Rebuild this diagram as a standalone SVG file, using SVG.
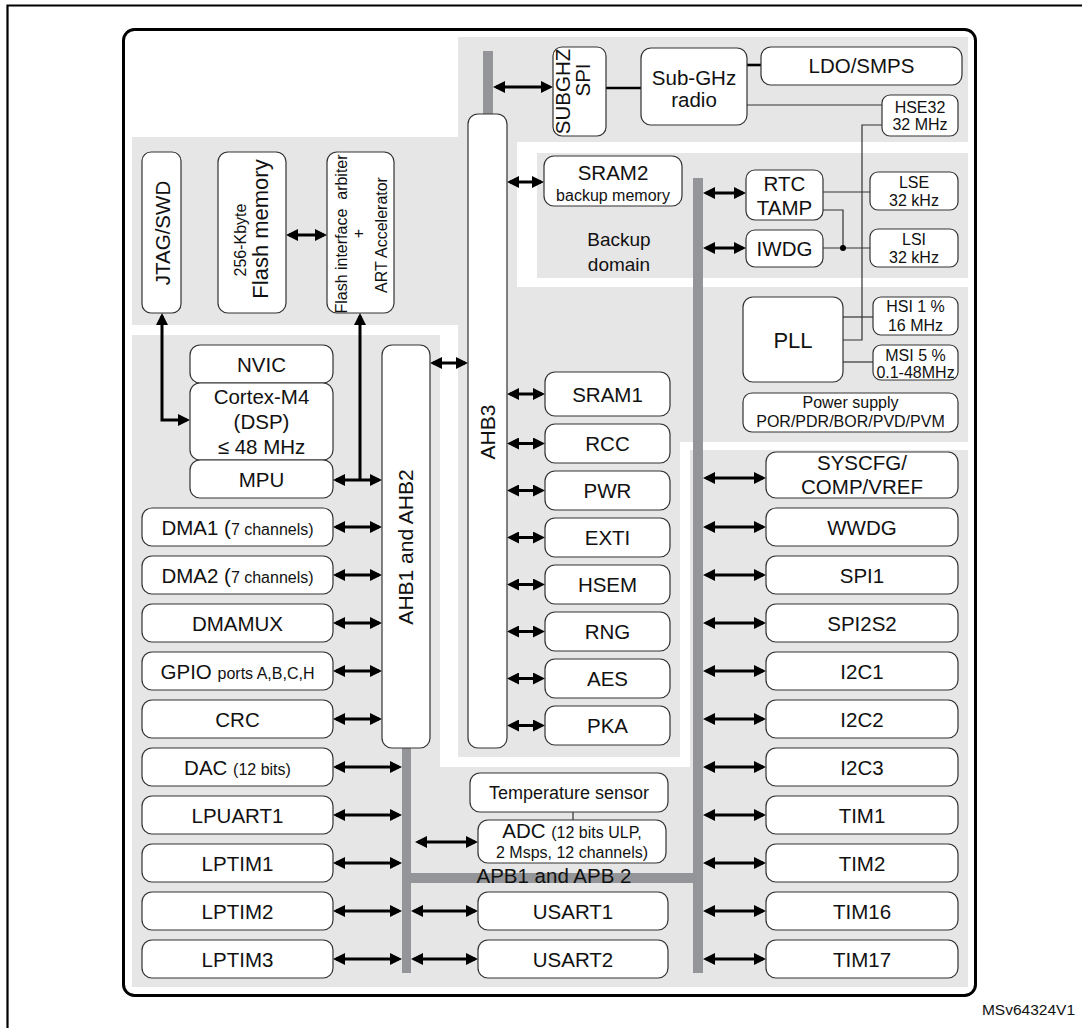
<svg xmlns="http://www.w3.org/2000/svg" width="1082" height="1028" viewBox="0 0 1082 1028">
<defs>
<style>
.region{fill:#e6e6e6}
.bus{fill:#939598}
.box{fill:#fff;stroke:#333;stroke-width:1.2}
.t{font-family:"Liberation Sans",Arial,sans-serif;text-anchor:middle;fill:#111}
.L{font-size:20.5px}
.M{font-size:16px}
.arrow{fill:none;stroke:#000;stroke-width:3;marker-start:url(#ah);marker-end:url(#ah)}
.arrow1{fill:none;stroke:#000;stroke-width:3;marker-start:url(#ah)}
.wire{fill:none;stroke:#333;stroke-width:1.2}
.thick{fill:none;stroke:#000;stroke-width:2.6}
</style>
<marker id="ah" viewBox="0 0 12 12" refX="9" refY="6" markerWidth="12" markerHeight="12" markerUnits="userSpaceOnUse" orient="auto-start-reverse">
<path d="M0,0 L12,6 L0,12 Z" fill="#000"/>
</marker>
</defs>
<rect width="1082" height="1028" fill="#fff"/>
<path d="M7.5,1028 V5.5 H1082" fill="none" stroke="#000" stroke-width="2.2"/>
<rect x="123.5" y="29.5" width="852" height="966" rx="11" fill="none" stroke="#000" stroke-width="3"/>

<g id="regions">
<path class="region" d="M458,37 H968 V142 H517 V287 H968 V442 H680 V757 H458 V325 H132 V137 H458 Z"/>
<rect class="region" x="537" y="153" width="431" height="125"/>
<path class="region" d="M132,335 H440 V767 H690 V450 H968 V987 H132 Z"/>
</g>

<g id="buses">
<rect class="bus" x="483" y="51" width="10" height="64"/>
<rect class="bus" x="693" y="178" width="10" height="795"/>
<rect class="bus" x="402" y="748" width="9" height="225"/>
<rect class="bus" x="411" y="873" width="282" height="10"/>
</g>

<g id="connectors">
<path class="arrow" d="M496,87 H550"/>
<path class="arrow" d="M510,182 H541"/>
<path class="arrow" d="M706,193 H743"/>
<path class="arrow" d="M706,248 H743"/>
<path class="arrow" d="M289,235 H324"/>
<path class="arrow" d="M162,316 V420 H187"/>
<path class="arrow1" d="M360,316 V480"/>
<path class="arrow" d="M336,480 H379"/>
<path class="arrow" d="M433,363 H465"/>
<path class="arrow" d="M510,394 H542"/>
<path class="arrow" d="M510,443.5 H542"/>
<path class="arrow" d="M510,490.5 H542"/>
<path class="arrow" d="M510,537.5 H542"/>
<path class="arrow" d="M510,584.5 H542"/>
<path class="arrow" d="M510,631.5 H542"/>
<path class="arrow" d="M510,678.5 H542"/>
<path class="arrow" d="M510,725.5 H542"/>
<path class="arrow" d="M336,527 H379"/>
<path class="arrow" d="M336,575 H379"/>
<path class="arrow" d="M336,623 H379"/>
<path class="arrow" d="M336,671 H379"/>
<path class="arrow" d="M336,719 H379"/>
<path class="arrow" d="M336,767 H399"/>
<path class="arrow" d="M336,815 H399"/>
<path class="arrow" d="M336,863 H399"/>
<path class="arrow" d="M336,911 H399"/>
<path class="arrow" d="M336,959 H399"/>
<path class="arrow" d="M418,842 H475"/>
<path class="arrow" d="M414,911 H475"/>
<path class="arrow" d="M414,959 H475"/>
<path class="arrow" d="M706,478 H763"/>
<path class="arrow" d="M706,527 H763"/>
<path class="arrow" d="M706,575 H763"/>
<path class="arrow" d="M706,623 H763"/>
<path class="arrow" d="M706,671 H763"/>
<path class="arrow" d="M706,719 H763"/>
<path class="arrow" d="M706,767 H763"/>
<path class="arrow" d="M706,815 H763"/>
<path class="arrow" d="M706,863 H763"/>
<path class="arrow" d="M706,911 H763"/>
<path class="arrow" d="M706,959 H763"/>
<path class="thick" d="M597,88 H641"/>
<path class="thick" d="M747,65 H761" stroke-width="3"/>
<path class="wire" d="M747,105 H882"/>
<path class="wire" d="M882,125 H862 V340 H843"/>
<path class="wire" d="M843,317 H873"/>
<path class="wire" d="M843,362 H873"/>
<path class="wire" d="M823,192 H870"/>
<path class="wire" d="M823,210 H843 V248"/>
<path class="wire" d="M823,248 H870"/>
<circle cx="843" cy="248" r="3" fill="#000"/>
<path class="wire" d="M573,812 V820"/>
</g>

<g id="node-subghz-spi">
<rect class="box" x="553" y="47" width="53" height="89" rx="9"/>
<text class="t L" transform="translate(570,91.5) rotate(-90)">SUBGHZ</text>
<text class="t L" transform="translate(590,80) rotate(-90)">SPI</text>
</g>
<g id="node-subghz-radio">
<rect class="box" x="641" y="48" width="106" height="77" rx="10"/>
<text class="t L" x="694" y="85">Sub-GHz</text>
<text class="t L" x="694" y="107">radio</text>
</g>
<g id="node-ldo">
<rect class="box" x="761" y="47" width="201" height="38" rx="10"/>
<text class="t L" x="861.5" y="73">LDO/SMPS</text>
</g>
<g id="node-hse32">
<rect class="box" x="882" y="95" width="76" height="41" rx="8"/>
<text class="t M" x="920" y="113">HSE32</text>
<text class="t M" x="920" y="130">32 MHz</text>
</g>
<g id="node-sram2">
<rect class="box" x="544" y="156" width="138" height="50" rx="10"/>
<text class="t L" x="613" y="180">SRAM2</text>
<text class="t M" x="613" y="201">backup memory</text>
</g>
<g id="node-rtc">
<rect class="box" x="746" y="170" width="77" height="50" rx="9"/>
<text class="t L" x="784.5" y="191">RTC</text>
<text class="t L" x="784.5" y="215">TAMP</text>
</g>
<g id="node-iwdg">
<rect class="box" x="746" y="230" width="77" height="37" rx="9"/>
<text class="t L" x="784.5" y="256">IWDG</text>
</g>
<g id="label-backup">
<text class="t" x="619" y="246" font-size="19">Backup</text>
<text class="t" x="619" y="271" font-size="19">domain</text>
</g>
<g id="node-lse">
<rect class="box" x="870" y="172" width="88" height="38" rx="8"/>
<text class="t M" x="914" y="188">LSE</text>
<text class="t M" x="914" y="206">32 kHz</text>
</g>
<g id="node-lsi">
<rect class="box" x="870" y="229" width="88" height="38" rx="8"/>
<text class="t M" x="914" y="245">LSI</text>
<text class="t M" x="914" y="263">32 kHz</text>
</g>
<g id="node-pll">
<rect class="box" x="743" y="297" width="100" height="85" rx="10"/>
<text class="t" x="793" y="348" font-size="22">PLL</text>
</g>
<g id="node-hsi">
<rect class="box" x="873" y="297" width="85" height="38" rx="8"/>
<text class="t M" x="915.5" y="312">HSI 1 %</text>
<text class="t M" x="915.5" y="331">16 MHz</text>
</g>
<g id="node-msi">
<rect class="box" x="873" y="345" width="85" height="35" rx="8"/>
<text class="t M" x="915.5" y="361">MSI 5 %</text>
<text class="t M" x="915.5" y="378">0.1-48MHz</text>
</g>
<g id="node-power">
<rect class="box" x="743" y="393" width="215" height="39" rx="9"/>
<text class="t M" x="850.5" y="408">Power supply</text>
<text class="t M" x="850.5" y="427">POR/PDR/BOR/PVD/PVM</text>
</g>

<g id="node-jtag">
<rect class="box" x="142" y="152" width="39" height="161" rx="9"/>
<text class="t L" transform="translate(170,233) rotate(-90)">JTAG/SWD</text>
</g>
<g id="node-flash">
<rect class="box" x="218" y="152" width="68" height="161" rx="10"/>
<text class="t" font-size="16" transform="translate(246,240) rotate(-90)">256-Kbyte</text>
<text class="t" font-size="22" transform="translate(268,229) rotate(-90)">Flash memory</text>
</g>
<g id="node-flash-if">
<rect class="box" x="327" y="152" width="67" height="161" rx="10"/>
<text class="t M" style="white-space:pre" transform="translate(347,234) rotate(-90)">Flash interface  arbiter</text>
<text class="t M" transform="translate(364,233.5) rotate(-90)">+</text>
<text class="t M" transform="translate(387,235) rotate(-90)">ART Accelerator</text>
</g>

<g id="node-nvic">
<rect class="box" x="190" y="345" width="143" height="38" rx="10"/>
<text class="t L" x="261.5" y="371.5">NVIC</text>
</g>
<g id="node-cortex">
<rect class="box" x="190" y="383" width="143" height="77" rx="10"/>
<text class="t L" x="261.5" y="404">Cortex-M4</text>
<text class="t L" x="261.5" y="429">(DSP)</text>
<text class="t L" x="261.5" y="454">≤ 48 MHz</text>
</g>
<g id="node-mpu">
<rect class="box" x="190" y="460" width="143" height="38" rx="10"/>
<text class="t L" x="261.5" y="486.5">MPU</text>
</g>

<g id="node-ahb12">
<rect class="box" x="382" y="345" width="48" height="403" rx="10"/>
<text class="t" font-size="21" transform="translate(413,547) rotate(-90)">AHB1 and AHB2</text>
</g>
<g id="node-ahb3">
<rect class="box" x="468" y="114" width="39" height="634" rx="10"/>
<text class="t" font-size="21" transform="translate(495,432) rotate(-90)">AHB3</text>
</g>

<g id="node-sram1"><rect class="box" x="545" y="372" width="125" height="44" rx="10"/><text class="t L" x="607.5" y="401.5">SRAM1</text></g>
<g id="node-rcc"><rect class="box" x="545" y="424" width="125" height="39" rx="10"/><text class="t L" x="607.5" y="451">RCC</text></g>
<g id="node-pwr"><rect class="box" x="545" y="471" width="125" height="39" rx="10"/><text class="t L" x="607.5" y="498">PWR</text></g>
<g id="node-exti"><rect class="box" x="545" y="518" width="125" height="39" rx="10"/><text class="t L" x="607.5" y="545">EXTI</text></g>
<g id="node-hsem"><rect class="box" x="545" y="565" width="125" height="39" rx="10"/><text class="t L" x="607.5" y="592">HSEM</text></g>
<g id="node-rng"><rect class="box" x="545" y="612" width="125" height="39" rx="10"/><text class="t L" x="607.5" y="639">RNG</text></g>
<g id="node-aes"><rect class="box" x="545" y="659" width="125" height="39" rx="10"/><text class="t L" x="607.5" y="686">AES</text></g>
<g id="node-pka"><rect class="box" x="545" y="706" width="125" height="39" rx="10"/><text class="t L" x="607.5" y="733">PKA</text></g>

<g id="node-dma1"><rect class="box" x="142" y="508" width="191" height="38" rx="10"/><text class="t L" x="237.5" y="534.5">DMA1 (<tspan class="M">7 channels)</tspan></text></g>
<g id="node-dma2"><rect class="box" x="142" y="556" width="191" height="38" rx="10"/><text class="t L" x="237.5" y="582.5">DMA2 (<tspan class="M">7 channels)</tspan></text></g>
<g id="node-dmamux"><rect class="box" x="142" y="604" width="191" height="38" rx="10"/><text class="t L" x="237.5" y="630.5">DMAMUX</text></g>
<g id="node-gpio"><rect class="box" x="142" y="652" width="191" height="38" rx="10"/><text class="t L" x="237.5" y="678.5">GPIO <tspan class="M">ports A,B,C,H</tspan></text></g>
<g id="node-crc"><rect class="box" x="142" y="700" width="191" height="38" rx="10"/><text class="t L" x="237.5" y="726.5">CRC</text></g>
<g id="node-dac"><rect class="box" x="142" y="748" width="191" height="38" rx="10"/><text class="t L" x="237.5" y="774.5">DAC <tspan class="M">(12 bits)</tspan></text></g>
<g id="node-lpuart1"><rect class="box" x="142" y="796" width="191" height="38" rx="10"/><text class="t L" x="237.5" y="822.5">LPUART1</text></g>
<g id="node-lptim1"><rect class="box" x="142" y="844" width="191" height="38" rx="10"/><text class="t L" x="237.5" y="870.5">LPTIM1</text></g>
<g id="node-lptim2"><rect class="box" x="142" y="892" width="191" height="38" rx="10"/><text class="t L" x="237.5" y="918.5">LPTIM2</text></g>
<g id="node-lptim3"><rect class="box" x="142" y="940" width="191" height="38" rx="10"/><text class="t L" x="237.5" y="966.5">LPTIM3</text></g>

<g id="node-temp"><rect class="box" x="470" y="773" width="198" height="39" rx="10"/><text class="t" font-size="18" x="569" y="799">Temperature sensor</text></g>
<g id="node-adc"><rect class="box" x="478" y="820" width="188" height="43" rx="10"/>
<text class="t L" x="572" y="838">ADC <tspan class="M">(12 bits ULP,</tspan></text>
<text class="t M" x="572" y="858">2 Msps, 12 channels)</text></g>
<text id="label-apb" class="t L" x="554" y="883">APB1 and APB 2</text>
<g id="node-usart1"><rect class="box" x="478" y="892" width="190" height="38" rx="10"/><text class="t L" x="573" y="918.5">USART1</text></g>
<g id="node-usart2"><rect class="box" x="478" y="940" width="190" height="38" rx="10"/><text class="t L" x="573" y="966.5">USART2</text></g>

<g id="node-syscfg"><rect class="box" x="766" y="452" width="192" height="46" rx="10"/><text class="t L" x="862" y="470">SYSCFG/</text><text class="t L" x="862" y="494">COMP/VREF</text></g>
<g id="node-wwdg"><rect class="box" x="766" y="508" width="192" height="38" rx="10"/><text class="t L" x="862" y="534.5">WWDG</text></g>
<g id="node-spi1"><rect class="box" x="766" y="556" width="192" height="38" rx="10"/><text class="t L" x="862" y="582.5">SPI1</text></g>
<g id="node-spi2s2"><rect class="box" x="766" y="604" width="192" height="38" rx="10"/><text class="t L" x="862" y="630.5">SPI2S2</text></g>
<g id="node-i2c1"><rect class="box" x="766" y="652" width="192" height="38" rx="10"/><text class="t L" x="862" y="678.5">I2C1</text></g>
<g id="node-i2c2"><rect class="box" x="766" y="700" width="192" height="38" rx="10"/><text class="t L" x="862" y="726.5">I2C2</text></g>
<g id="node-i2c3"><rect class="box" x="766" y="748" width="192" height="38" rx="10"/><text class="t L" x="862" y="774.5">I2C3</text></g>
<g id="node-tim1"><rect class="box" x="766" y="796" width="192" height="38" rx="10"/><text class="t L" x="862" y="822.5">TIM1</text></g>
<g id="node-tim2"><rect class="box" x="766" y="844" width="192" height="38" rx="10"/><text class="t L" x="862" y="870.5">TIM2</text></g>
<g id="node-tim16"><rect class="box" x="766" y="892" width="192" height="38" rx="10"/><text class="t L" x="862" y="918.5">TIM16</text></g>
<g id="node-tim17"><rect class="box" x="766" y="940" width="192" height="38" rx="10"/><text class="t L" x="862" y="966.5">TIM17</text></g>

<text id="ref-code" x="1075" y="1015" font-family="Liberation Sans, Arial, sans-serif" font-size="15.5" text-anchor="end" fill="#111">MSv64324V1</text>
</svg>
